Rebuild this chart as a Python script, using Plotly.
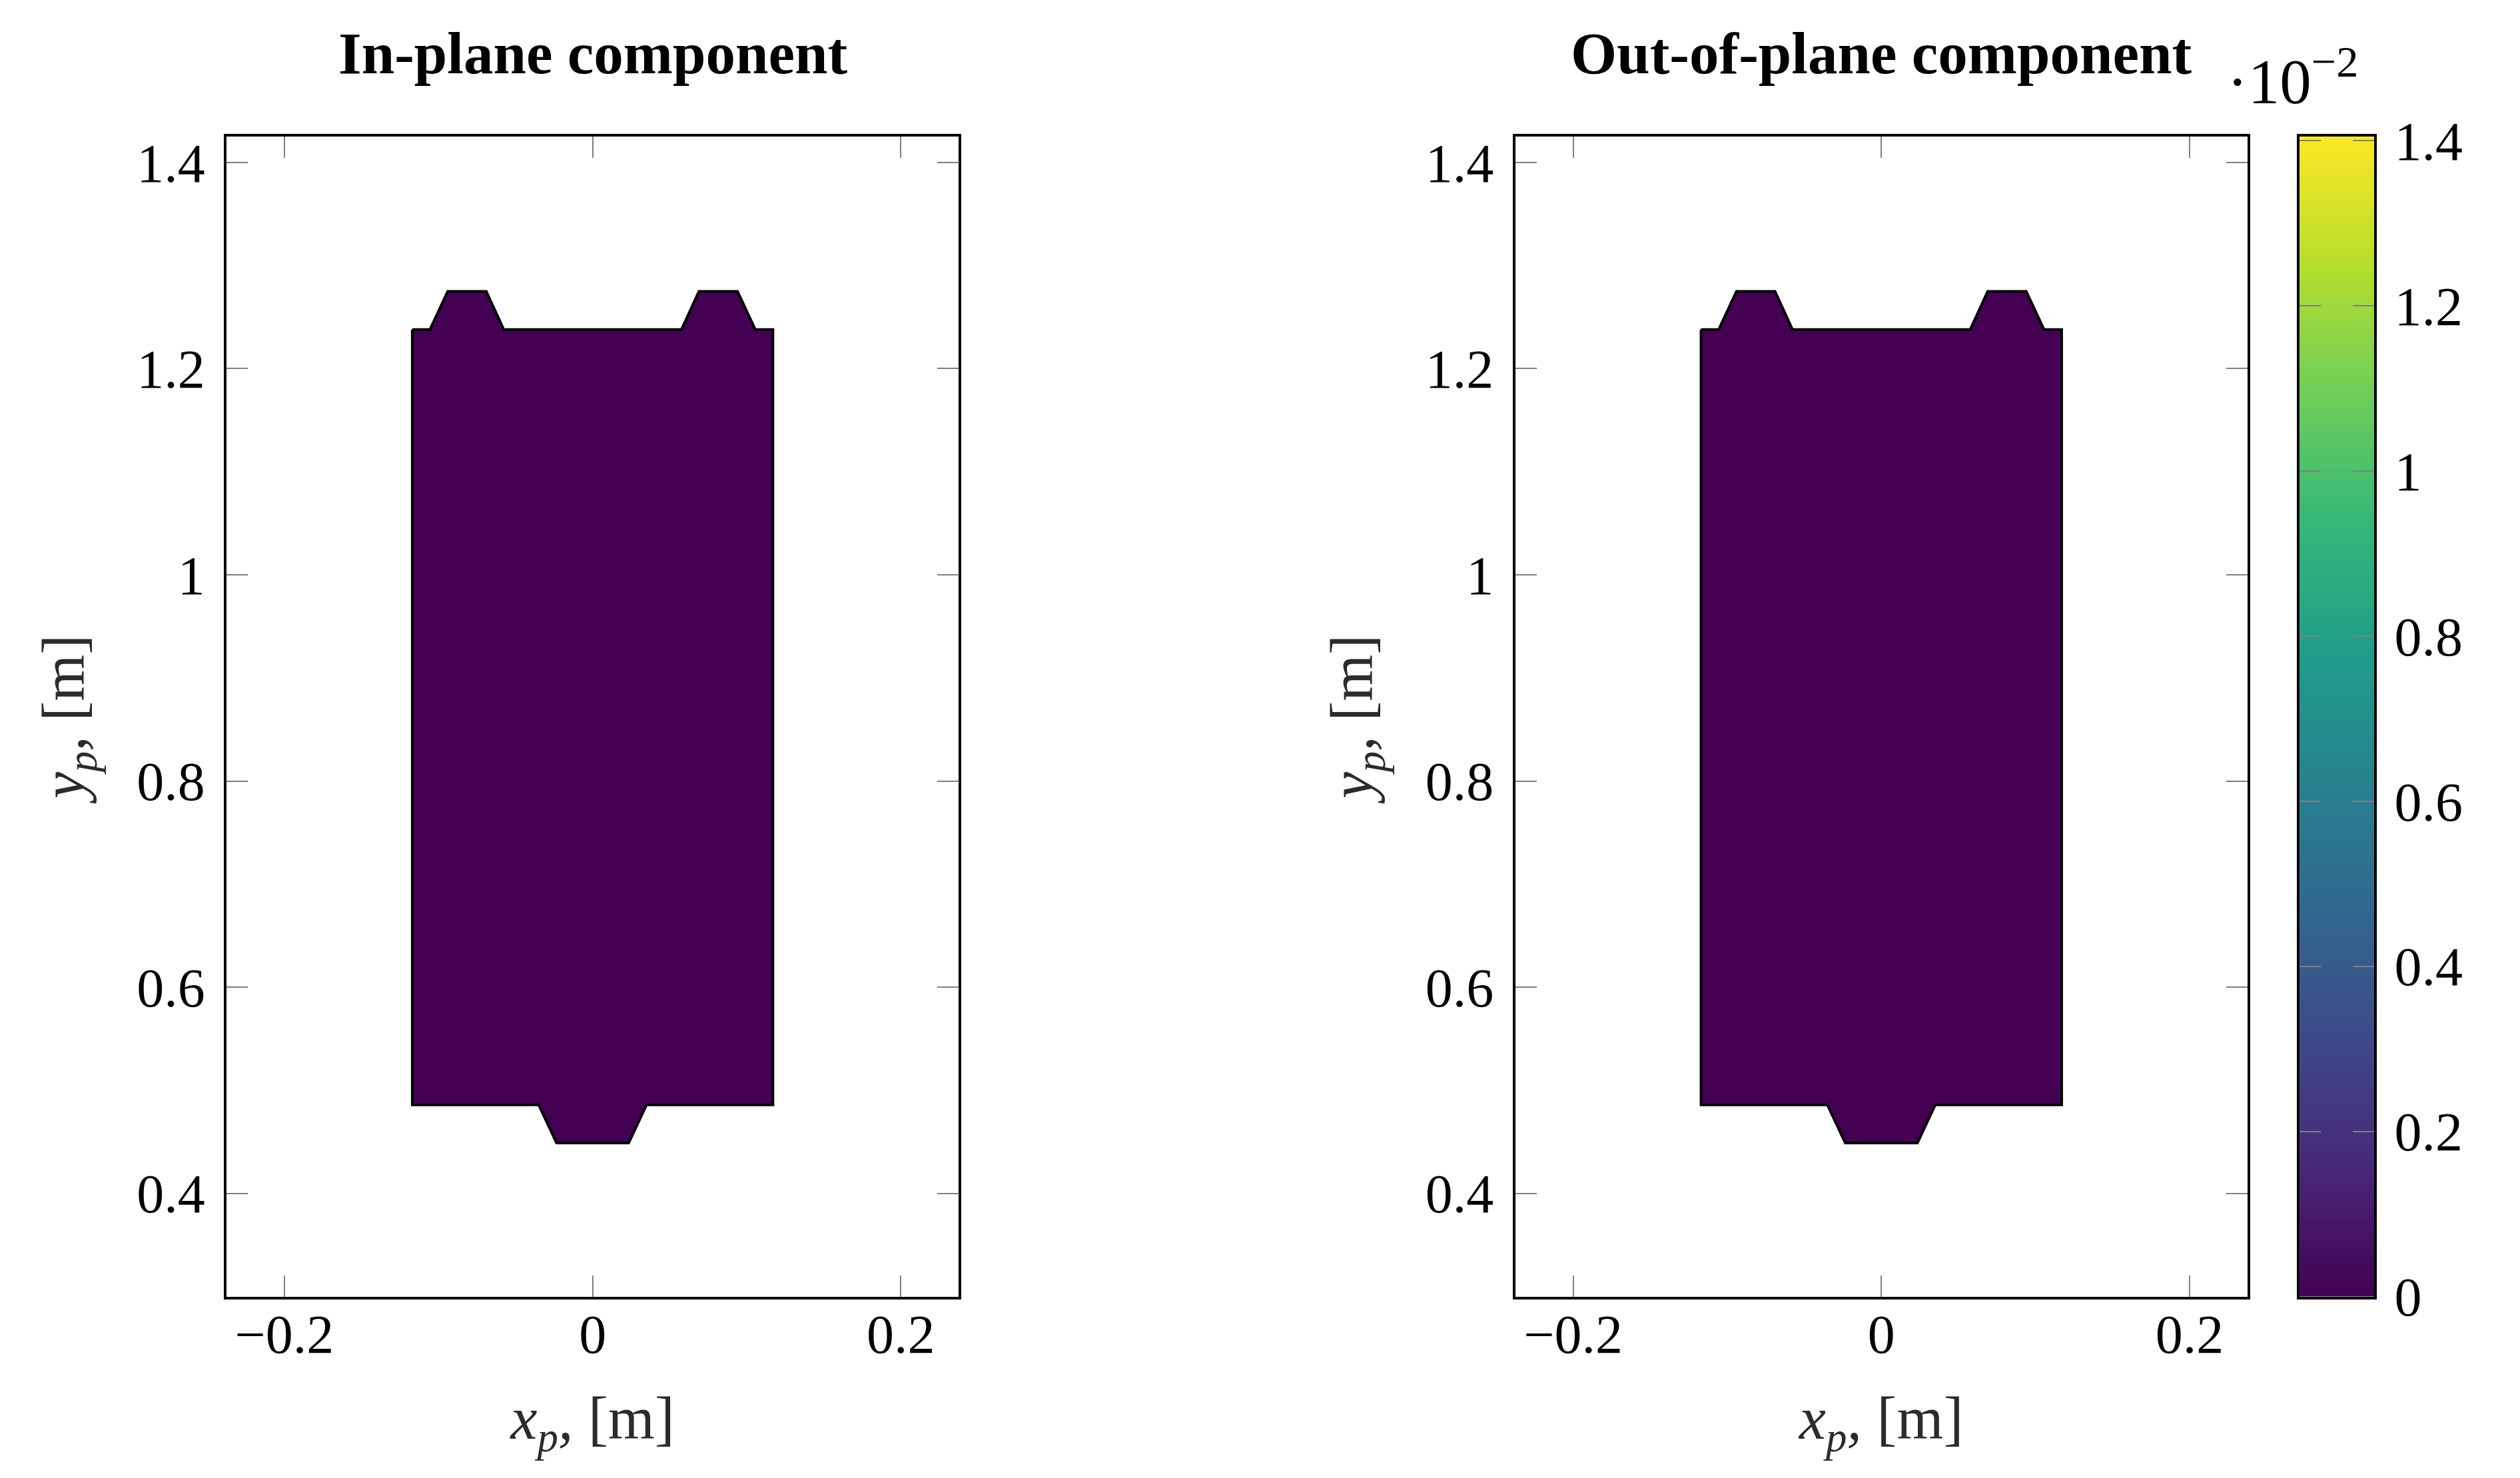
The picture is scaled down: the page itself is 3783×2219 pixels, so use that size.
import numpy as np
import plotly.graph_objects as go

# Plate outline, same for both panels
plate_x = [-0.117, -0.1055, -0.094, -0.069, -0.0577, 0.0577, 0.069, 0.094, 0.1055, 0.117,
           0.117, 0.035, 0.0234, -0.0234, -0.035, -0.117, -0.117]
plate_y = [1.238, 1.238, 1.275, 1.275, 1.238, 1.238, 1.275, 1.275, 1.238, 1.238,
           0.486, 0.486, 0.449, 0.449, 0.486, 0.486, 1.238]

# Field value on the plate (x 1e-2), zero everywhere in both components
in_plane_value = 0
out_of_plane_value = 0
colors_viridis = '#440154'

x_ticks = [-0.2, 0, 0.2]
x_labels = ['−0.2', '0', '0.2']
y_ticks = [0.4, 0.6, 0.8, 1, 1.2, 1.4]
y_labels = ['0.4', '0.6', '0.8', '1', '1.2', '1.4']
bar_ticks = [0, 0.2, 0.4, 0.6, 0.8, 1, 1.2, 1.4]
bar_labels = ['0', '0.2', '0.4', '0.6', '0.8', '1', '1.2', '1.4']

FONT = 'Liberation Serif'
TICK_SIZE = 82
AXIS_COLOR = '#2b2b2b'
Y_DOMAIN = [0.1094, 0.9254]

fig = go.Figure()

# The two plates
for xa, ya, val in [('x', 'y', in_plane_value), ('x2', 'y2', out_of_plane_value)]:
    fig.add_trace(go.Scatter(x=plate_x, y=plate_y, xaxis=xa, yaxis=ya, mode='lines', fill='toself',
                             fillcolor=colors_viridis, line=dict(color='black', width=4),
                             showlegend=False, hoverinfo='skip', name=f'value {val}'))

# Colour bar drawn as its own axes so the ticks show on both sides
levels = np.linspace(0, 1.405, 256)
fig.add_trace(go.Heatmap(z=[[v] for v in levels], x=[0], y=levels, xaxis='x3', yaxis='y3',
                         colorscale='Viridis', zmin=0, zmax=1.405, showscale=False, hoverinfo='skip'))


def frame(**kw):
    return dict(showline=True, linecolor='black', linewidth=4, mirror='ticks', ticks='inside',
                ticklen=32, tickwidth=2, tickcolor='#808080', showgrid=False, zeroline=False,
                tickfont=dict(family=FONT, size=TICK_SIZE, color='black'), **kw)


x_title = dict(text='<i>x<sub>p</sub>,</i> [m]', font=dict(family=FONT, size=90, color=AXIS_COLOR), standoff=50)
y_title = dict(text='<i>y<sub>p</sub>,</i> [m]', font=dict(family=FONT, size=90, color=AXIS_COLOR), standoff=50)

fig.update_layout(
    width=3783, height=2219,
    margin=dict(l=0, r=0, t=0, b=0),
    paper_bgcolor='white', plot_bgcolor='white',
    xaxis=frame(domain=[0.0878, 0.3783], anchor='y', range=[-0.2375, 0.2375],
                tickmode='array', tickvals=x_ticks, ticktext=x_labels, title=x_title, ticklabelstandoff=-18),
    yaxis=frame(domain=Y_DOMAIN, anchor='x', range=[0.3, 1.425],
                tickmode='array', tickvals=y_ticks, ticktext=y_labels, title=y_title, ticklabelstandoff=12),
    xaxis2=frame(domain=[0.5992, 0.8897], anchor='y2', range=[-0.2375, 0.2375],
                 tickmode='array', tickvals=x_ticks, ticktext=x_labels, title=x_title, ticklabelstandoff=-18),
    yaxis2=frame(domain=Y_DOMAIN, anchor='x2', range=[0.3, 1.425],
                 tickmode='array', tickvals=y_ticks, ticktext=y_labels, title=y_title, ticklabelstandoff=12),
    xaxis3=dict(domain=[0.9104, 0.9400], anchor='y3', showticklabels=False, ticks='', showgrid=False,
                zeroline=False, showline=True, linecolor='black', linewidth=4, mirror=True),
    yaxis3=frame(domain=Y_DOMAIN, anchor='x3', side='right', range=[0, 1.405],
                 tickmode='array', tickvals=bar_ticks, ticktext=bar_labels, ticklabelstandoff=10),
    annotations=[
        dict(text='<b>In-plane component</b>', xref='x domain', yref='paper', x=0.5, y=0.984, showarrow=False,
             xanchor='center', yanchor='middle', font=dict(family=FONT, size=89, color='black')),
        dict(text='<b>Out-of-plane component</b>', xref='x2 domain', yref='paper', x=0.5, y=0.984, showarrow=False,
             xanchor='center', yanchor='middle', font=dict(family=FONT, size=89, color='black')),
        dict(text='·10<sup>−2</sup>', xref='paper', yref='paper', x=0.9075, y=0.967, showarrow=False,
             xanchor='center', yanchor='middle', font=dict(family=FONT, size=95, color='black')),
    ],
)

fig.write_html("out.html")
